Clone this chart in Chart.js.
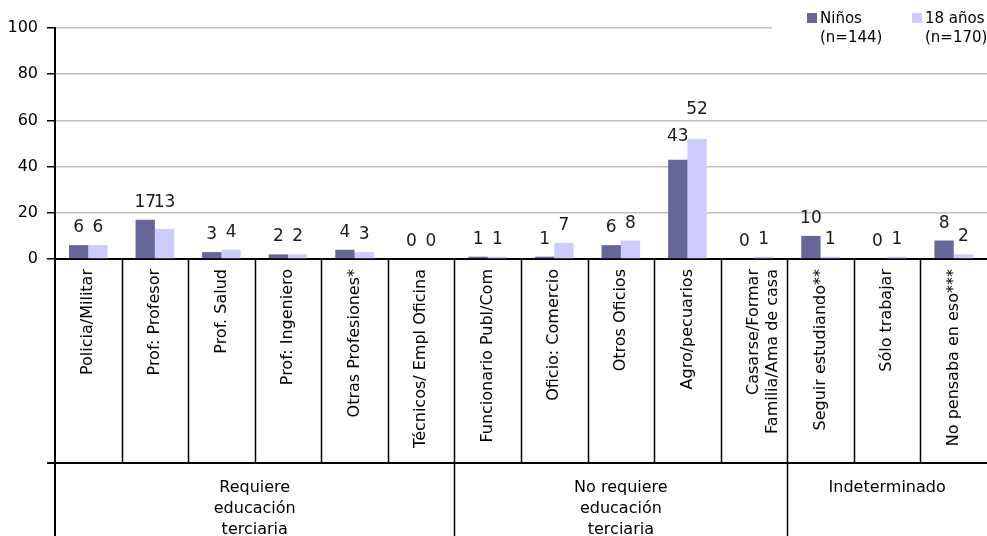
<!DOCTYPE html>
<html>
<head>
<meta charset="utf-8">
<script src="https://cdn.jsdelivr.net/npm/chart.js@4.4.1/dist/chart.umd.min.js"></script>
<style>
  html, body { margin: 0; padding: 0; background: #ffffff; }
  #wrap { width: 987px; height: 536px; }
</style>
</head>
<body>
<div id="wrap"><canvas id="c" width="987" height="536"></canvas></div>
<script>
// Occupations, in display order
const categories = [
  'Policia/Militar',
  'Prof: Profesor',
  'Prof. Salud',
  'Prof: Ingeniero',
  'Otras Profesiones*',
  'Técnicos/ Empl Oficina',
  'Funcionario Publ/Com',
  'Oficio: Comercio',
  'Otros Oficios',
  'Agro/pecuarios',
  ['Casarse/Formar', 'Familia/Ama de casa'],
  'Seguir estudiando**',
  'Sólo trabajar',
  'No pensaba en eso***'
];

// Percentages per series
const ninos     = [6, 17, 3, 2, 4, 0, 1, 1, 6, 43, 0, 10, 0, 8];
const dieciocho = [6, 13, 4, 2, 3, 0, 1, 7, 8, 52, 1, 1, 1, 2];

// Series names (two-line legend entries)
const seriesNames = [['Niños', '(n=144)'], ['18 años', '(n=170)']];

// Value axis
const yMin = 0, yMax = 100, yStep = 20;

// Category groups (first and last category index of each)
const groupLabels = [
  ['Requiere', 'educación', 'terciaria'],
  ['No requiere', 'educación', 'terciaria'],
  ['Indeterminado']
];
const groupFirst = [0, 6, 11];
const groupLast  = [5, 10, 13];

const COLORS = ['#666699', '#ccccff'];
const FONT = '"DejaVu Sans", "Liberation Sans", sans-serif';

// Value labels over each bar
const valueLabels = {
  id: 'valueLabels',
  afterDatasetsDraw(chart, args, opts) {
    const ctx = chart.ctx;
    ctx.save();
    ctx.font = '17px ' + FONT;
    ctx.fillStyle = '#1a1a1a';
    ctx.textAlign = 'center';
    ctx.textBaseline = 'alphabetic';
    chart.data.datasets.forEach((ds, di) => {
      const meta = chart.getDatasetMeta(di);
      meta.data.forEach((bar, i) => {
        const lift = ((opts.extraLift || {})[di + ':' + i]) || 0;
        ctx.fillText(String(ds.data[i]), bar.x, bar.y - opts.gap - lift);
      });
    });
    ctx.restore();
  }
};

// Category cell borders, group row and legend
const frame = {
  id: 'frame',
  afterDraw(chart) {
    const ctx = chart.ctx;
    const xs = chart.scales.x;
    const area = chart.chartArea;
    const n = categories.length;
    const step = (area.right - area.left) / n;
    const rowTop = area.bottom;
    const rowBottom = area.bottom + xs.height;
    const H = chart.height, W = chart.width;

    ctx.save();
    ctx.strokeStyle = '#000';
    ctx.lineWidth = 1.5;
    ctx.beginPath();
    for (let i = 1; i < n; i++) {
      const bx = Math.round(xs.getPixelForValue(i) - step / 2) + 0.5;
      ctx.moveTo(bx, rowTop);
      ctx.lineTo(bx, rowBottom);
    }
    ctx.stroke();

    ctx.lineWidth = 2;
    ctx.beginPath();
    ctx.moveTo(area.left - 8, rowBottom);
    ctx.lineTo(W, rowBottom);
    ctx.moveTo(area.left, rowTop);
    ctx.lineTo(area.left, H);
    ctx.stroke();

    ctx.lineWidth = 1.5;
    ctx.beginPath();
    for (let g = 1; g < groupFirst.length; g++) {
      const bx = Math.round(xs.getPixelForValue(groupFirst[g]) - step / 2) + 0.5;
      ctx.moveTo(bx, rowBottom);
      ctx.lineTo(bx, H);
    }
    ctx.stroke();

    ctx.fillStyle = '#000';
    ctx.font = '16px ' + FONT;
    ctx.textAlign = 'center';
    ctx.textBaseline = 'middle';
    groupLabels.forEach((lines, g) => {
      const x0 = xs.getPixelForValue(groupFirst[g]) - step / 2;
      const x1 = Math.min(xs.getPixelForValue(groupLast[g]) + step / 2, W + 0);
      const cx = (x0 + x1) / 2;
      lines.forEach((t, k) => ctx.fillText(t, cx, rowBottom + 25 + k * 21));
    });

    // Legend
    ctx.fillStyle = '#ffffff';
    ctx.fillRect(772, 0, W - 772, 52);
    const legX = [807, 912];
    seriesNames.forEach((lines, s) => {
      ctx.fillStyle = COLORS[s];
      ctx.fillRect(legX[s], 13, 10, 10);
      ctx.fillStyle = '#000';
      ctx.font = '15px ' + FONT;
      ctx.textAlign = 'left';
      ctx.textBaseline = 'middle';
      lines.forEach((t, k) => ctx.fillText(t, legX[s] + 13, 19 + k * 19));
    });
    ctx.restore();
  }
};

new Chart(document.getElementById('c'), {
  type: 'bar',
  data: {
    labels: categories,
    datasets: [
      { label: seriesNames[0].join(' '), data: ninos, backgroundColor: COLORS[0], borderWidth: 0 },
      { label: seriesNames[1].join(' '), data: dieciocho, backgroundColor: COLORS[1], borderWidth: 0 }
    ]
  },
  options: {
    responsive: false,
    animation: false,
    devicePixelRatio: 1,
    layout: { padding: { top: 28, bottom: 73, left: 0, right: 0 } },
    datasets: { bar: { barPercentage: 1, categoryPercentage: 0.58 } },
    plugins: {
      legend: { display: false },
      tooltip: { enabled: false },
      title: { display: false },
      valueLabels: { gap: 13, extraLift: { '1:1': 9, '0:9': 6, '1:9': 12 } }
    },
    scales: {
      x: {
        offset: true,
        grid: { display: false, drawOnChartArea: false, drawTicks: false },
        border: { display: true, color: '#000', width: 2 },
        ticks: {
          autoSkip: false,
          minRotation: 90,
          maxRotation: 90,
          padding: 10,
          color: '#000',
          font: { family: FONT, size: 16 }
        },
        afterFit(scale) { scale.height = 204; }
      },
      y: {
        min: yMin,
        max: yMax,
        grid: { color: '#c0c0c0', lineWidth: 1.5, tickLength: 8, tickColor: '#000', drawTicks: true },
        border: { display: true, color: '#000', width: 2 },
        ticks: {
          stepSize: yStep,
          padding: 9,
          color: '#000',
          font: { family: FONT, size: 16 }
        },
        afterFit(scale) { scale.width = 55; }
      }
    }
  },
  plugins: [valueLabels, frame]
});
</script>
</body>
</html>
